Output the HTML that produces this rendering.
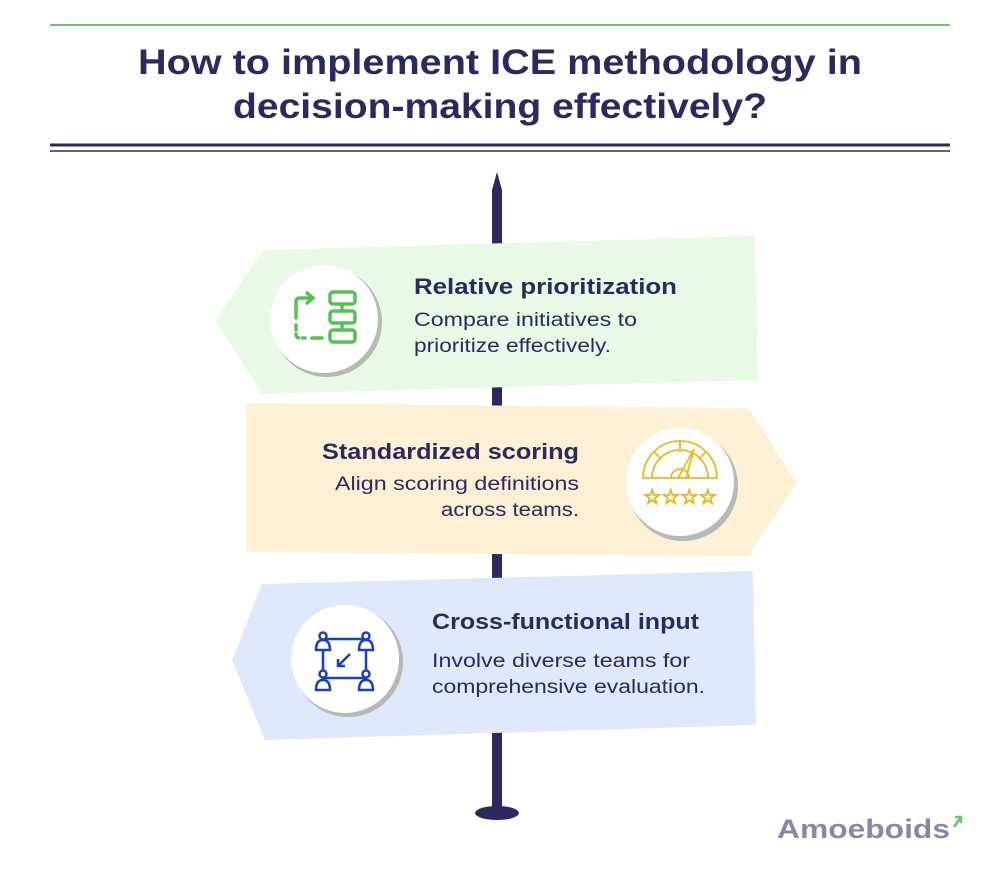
<!DOCTYPE html>
<html><head><style>
body{margin:0;background:#fff;}
svg text{font-family:"Liberation Sans",sans-serif;}
</style></head><body>
<svg width="1000" height="886" viewBox="0 0 1000 886" xmlns="http://www.w3.org/2000/svg">
<rect width="1000" height="886" fill="#fff"/>
<line x1="50" y1="25" x2="950" y2="25" stroke="#6cc56c" stroke-width="2"/>
<text x="138" y="74" font-size="35" font-weight="bold" fill="#2b2a5e" textLength="724" lengthAdjust="spacingAndGlyphs">How to implement ICE methodology in</text>
<text x="233" y="118" font-size="35" font-weight="bold" fill="#2b2a5e" textLength="534" lengthAdjust="spacingAndGlyphs">decision-making effectively?</text>
<line x1="50" y1="145" x2="950" y2="145" stroke="#2b2a5e" stroke-width="3"/>
<line x1="50" y1="151" x2="950" y2="151" stroke="#2b2a5e" stroke-width="1.5"/>
<!-- pole -->
<polygon points="497,172 502,190 502,812 492,812 492,190" fill="#2b2a5e"/>
<ellipse cx="497" cy="813" rx="22" ry="7" fill="#2b2a5e"/>
<!-- green sign -->
<polygon points="215,320 263,250 755,236 758,380 262,394" fill="#e8fae6"/>
<circle cx="327" cy="322" r="55" fill="#b8b8b8"/>
<circle cx="324" cy="319" r="54" fill="#fff"/>
<g fill="none" stroke="#55c055" stroke-width="3.5" stroke-linecap="round">
<rect x="330" y="292" width="25" height="12" rx="3"/>
<rect x="330" y="311" width="25" height="12" rx="3"/>
<rect x="330" y="330" width="25" height="12" rx="3"/>
<line x1="342" y1="304" x2="342" y2="311"/><line x1="342" y1="323" x2="342" y2="330"/>
<path d="M296 318 V302 Q296 298 300 298 H312" />
<path d="M307 293 L313 298 L307 303"/>
<path d="M296 325 V334 Q296 338 300 338 H305" stroke-dasharray="5 4"/>
<line x1="312" y1="338" x2="322" y2="338"/>
</g>
<text x="414" y="294" font-size="22" font-weight="bold" fill="#2b2a5e" textLength="263" lengthAdjust="spacingAndGlyphs">Relative prioritization</text>
<text x="414" y="326" font-size="19" fill="#2b2a5e" textLength="223" lengthAdjust="spacingAndGlyphs">Compare initiatives to</text>
<text x="414" y="352" font-size="19" fill="#2b2a5e" textLength="197" lengthAdjust="spacingAndGlyphs">prioritize effectively.</text>
<!-- yellow sign -->
<polygon points="246,403 748,408 797,483 748,556 246,552" fill="#fdf0d4"/>
<circle cx="683" cy="486" r="55" fill="#b8b8b8"/>
<circle cx="680" cy="482" r="54" fill="#fff"/>
<g fill="none" stroke="#e8b820" stroke-width="1.8">
<path d="M643 478 A37 37 0 0 1 717 478 Z"/>
<path d="M652 478 A28 28 0 0 1 708 478"/>
<path d="M671 478 A9 9 0 0 1 689 478"/>
<line x1="680" y1="441" x2="680" y2="452"/><line x1="654" y1="452" x2="661" y2="459"/><line x1="706" y1="452" x2="699" y2="459"/>
<path d="M678 478 L694 449 L686 478"/>
<text x="643" y="504" font-size="21" fill="none" stroke="#e8b820" stroke-width="1.2" textLength="74" lengthAdjust="spacingAndGlyphs">☆☆☆☆</text>
</g>
<text x="322" y="459" font-size="22" font-weight="bold" fill="#2b2a5e" textLength="257" lengthAdjust="spacingAndGlyphs">Standardized scoring</text>
<text x="335" y="490" font-size="19" fill="#2b2a5e" textLength="244" lengthAdjust="spacingAndGlyphs">Align scoring definitions</text>
<text x="441" y="516" font-size="19" fill="#2b2a5e" textLength="138" lengthAdjust="spacingAndGlyphs">across teams.</text>
<!-- blue sign -->
<polygon points="232,660 262,584 753,571 756,725 265,740" fill="#e0e8fb"/>
<circle cx="348" cy="662" r="55" fill="#b8b8b8"/>
<circle cx="345" cy="659" r="54" fill="#fff"/>
<g fill="none" stroke="#1a3fc0" stroke-width="2.5" transform="translate(30,0)">
<rect x="293" y="639" width="43" height="39"/>
<circle cx="293" cy="636" r="3.5" fill="#fff"/><path d="M286 650 Q286 640 293 640 Q300 640 300 650 Z" fill="#fff"/>
<circle cx="336" cy="636" r="3.5" fill="#fff"/><path d="M329 650 Q329 640 336 640 Q343 640 343 650 Z" fill="#fff"/>
<circle cx="293" cy="674" r="3.5" fill="#fff"/><path d="M286 690 Q286 680 293 680 Q300 680 300 690 Z" fill="#fff"/>
<circle cx="336" cy="674" r="3.5" fill="#fff"/><path d="M329 690 Q329 680 336 680 Q343 680 343 690 Z" fill="#fff"/>
<line x1="320" y1="654" x2="308" y2="666"/><path d="M308 659 V666 H315"/>
</g>
<text x="432" y="629" font-size="22" font-weight="bold" fill="#2b2a5e" textLength="267" lengthAdjust="spacingAndGlyphs">Cross-functional input</text>
<text x="432" y="667" font-size="19" fill="#2b2a5e" textLength="258" lengthAdjust="spacingAndGlyphs">Involve diverse teams for</text>
<text x="432" y="693" font-size="19" fill="#2b2a5e" textLength="273" lengthAdjust="spacingAndGlyphs">comprehensive evaluation.</text>
<!-- logo -->
<text x="777" y="838" font-size="27" font-weight="bold" fill="#8a86a8" textLength="173" lengthAdjust="spacingAndGlyphs">Amoeboids</text>
<path d="M954 827 L961 817 M955 817 H961 V823" stroke="#6cc56c" stroke-width="2.5" fill="none"/>
</svg>
</body></html>
